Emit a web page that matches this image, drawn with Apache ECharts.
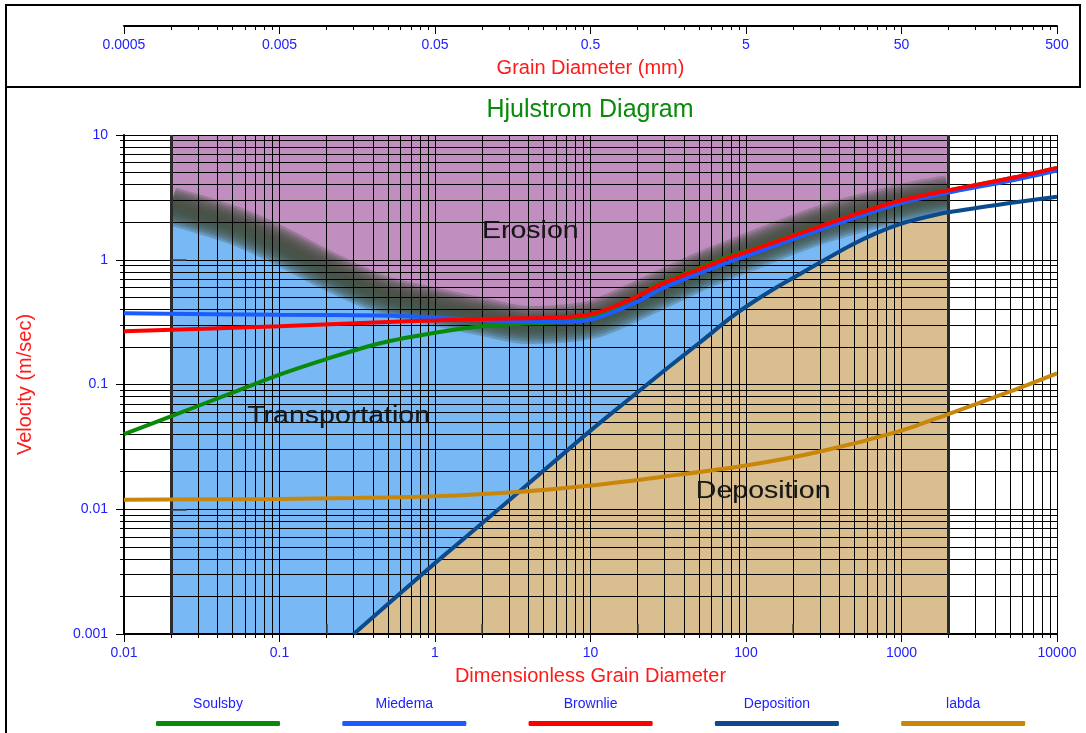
<!DOCTYPE html>
<html>
<head>
<meta charset="utf-8">
<script src="https://cdn.jsdelivr.net/npm/echarts@6/dist/echarts.min.js"></script>
<style>
  html, body { margin: 0; padding: 0; background: #fff; }
  #chart { width: 1086px; height: 733px; }
</style>
</head>
<body>
<div id="chart"></div>
<script>
// Hjulstrom diagram: velocity (m/sec) against dimensionless grain diameter, log-log
const soulsbyD = [0.01, 0.02, 0.05, 0.1, 0.2, 0.45, 1, 2, 3.5, 6, 10, 14, 20, 29, 49, 76, 100, 223, 500, 1000, 2000, 5000, 10000];
const soulsbyV = [0.040, 0.0556, 0.086, 0.12, 0.16, 0.215, 0.26, 0.293, 0.306, 0.316, 0.345, 0.405, 0.51, 0.655, 0.85, 1.06, 1.17, 1.65, 2.3, 3.0, 3.6, 4.5, 5.45];

const miedemaD = [0.01, 0.1, 0.45, 1, 2, 5, 7, 10, 14, 20, 29, 49, 76, 100, 223, 500, 1000, 2000, 5000, 10000];
const miedemaV = [0.372, 0.362, 0.357, 0.345, 0.327, 0.318, 0.316, 0.33, 0.38, 0.46, 0.59, 0.77, 0.95, 1.07, 1.53, 2.17, 2.85, 3.45, 4.3, 5.2];

const brownlieD = [0.01, 0.1, 0.45, 1, 2, 5, 7, 10, 14, 20, 29, 49, 76, 100, 223, 500, 1000, 2000, 5000, 10000];
const brownlieV = [0.267, 0.293, 0.316, 0.326, 0.335, 0.342, 0.347, 0.365, 0.418, 0.51, 0.644, 0.83, 1.03, 1.15, 1.63, 2.3, 3.0, 3.6, 4.5, 5.45];

const depositionD = [0.3, 1, 3, 10, 19, 30, 50, 79, 100, 150, 223, 470, 700, 1000, 1400, 2000, 5000, 10000];
const depositionV = [0.001, 0.0037, 0.0118, 0.0427, 0.082, 0.13, 0.215, 0.34, 0.42, 0.58, 0.77, 1.3, 1.65, 1.95, 2.18, 2.4, 2.85, 3.2];

const labdaD = [0.01, 0.1, 0.3, 1, 3, 10, 30, 100, 300, 1000, 2000, 5000, 10000];
const labdaV = [0.0119, 0.0121, 0.0123, 0.0127, 0.0136, 0.0155, 0.0183, 0.0224, 0.029, 0.0427, 0.058, 0.088, 0.123];

// centre of the blurred erosion / transportation boundary
const boundaryD = [0.02, 0.05, 0.1, 0.2, 0.45, 1, 2, 4, 10, 20, 50, 100, 300, 1000, 2000];
const boundaryV = [2.7, 1.9, 1.3, 0.83, 0.53, 0.42, 0.35, 0.30, 0.33, 0.47, 0.8, 1.13, 1.9, 2.85, 3.35];

const shadedD = [0.02, 2000];      // coloured part of the diagram
const xRange = [0.01, 10000];
const yRange = [0.001, 10];
const mmPerD = 0.05;               // grain diameter in mm = 0.05 * dimensionless diameter
const innerTickD = [0.2, 2, 20, 200];
const innerTickV = [1, 0.01];

const seriesNames = ['Soulsby', 'Miedema', 'Brownlie', 'Deposition', 'labda'];
const seriesColors = ['#0a8a0a', '#1a5cff', '#ff0000', '#0b4a8c', '#c8860a'];
const regionNames = ['Erosion', 'Transportation', 'Deposition'];
const regionAt = [[4.1, 1.69], [0.24, 0.0553], [129, 0.0138]];

const font = '"Liberation Sans", Arial, sans-serif';
const labelBlue = '#2020ff';

const pairs = (xs, ys) => xs.map((x, i) => [x, ys[i]]);
const fmt = v => String(parseFloat(v.toPrecision(4)));

const chart = echarts.init(document.getElementById('chart'));

const area = (name, data, color, z) => ({
  name, type: 'line', data, z, silent: true, symbol: 'none', smooth: 0.3,
  lineStyle: { width: 0 },
  areaStyle: { color, opacity: 1, origin: 'start' }
});

// the soft dark band is built from a few translucent strokes of falling width
const bandWidths = [38, 33, 28, 23, 18, 13, 8];
const bandSeries = bandWidths.map((w, i) => ({
  name: 'band' + i, type: 'line', data: pairs(boundaryD, boundaryV), z: 1.4,
  silent: true, symbol: 'none', smooth: 0.3,
  lineStyle: { width: w, color: 'rgba(66,80,64,0.27)', cap: 'butt', shadowBlur: 4, shadowColor: 'rgba(66,80,64,0.2)' }
}));

const curveData = [
  pairs(soulsbyD, soulsbyV),
  pairs(miedemaD, miedemaV),
  pairs(brownlieD, brownlieV),
  pairs(depositionD, depositionV),
  pairs(labdaD, labdaV)
];

const innerTicks = [];
innerTickD.forEach(d => innerTicks.push([{ coord: [d, yRange[0]] }, { coord: [d, yRange[0] * 1.21] }]));
innerTickV.forEach(v => innerTicks.push([{ coord: [shadedD[0], v] }, { coord: [shadedD[0] * 1.26, v] }]));

const logAxis = (extra) => Object.assign({
  type: 'log',
  logBase: 10,
  z: 3,
  nameLocation: 'middle',
  nameTextStyle: { color: '#ff1a1a', fontSize: 20, fontFamily: font },
  axisLine: { show: true, onZero: false, lineStyle: { color: '#000', width: 2 } },
  axisTick: { show: true, length: 8, lineStyle: { color: '#000' } },
  minorTick: { show: true, splitNumber: 9, length: 4, lineStyle: { color: '#000' } },
  splitLine: { show: true, lineStyle: { color: '#000', width: 1 } },
  minorSplitLine: { show: true, lineStyle: { color: '#000', width: 1 } },
  axisLabel: { color: labelBlue, fontSize: 14, fontFamily: font, formatter: v => fmt(v) }
}, extra);

const option = {
  animation: false,
  backgroundColor: '#fff',
  title: {
    text: 'Hjulstrom Diagram',
    left: 590, top: 98, padding: 0, textAlign: 'center',
    textStyle: { color: '#0a8a0a', fontSize: 25, fontWeight: 'normal', fontFamily: font }
  },
  grid: [
    { left: 124, right: 29, top: 135, bottom: 99 },
    { left: 124, right: 29, top: 20, height: 6 }
  ],
  xAxis: [
    logAxis({
      gridIndex: 0, min: xRange[0], max: xRange[1], splitNumber: 6,
      name: 'Dimensionless Grain Diameter', nameGap: 32,
      axisLabel: { color: labelBlue, fontSize: 14, fontFamily: font, margin: 12, formatter: v => fmt(v) }
    }),
    logAxis({
      gridIndex: 1, min: xRange[0], max: xRange[1], splitNumber: 6, position: 'bottom',
      name: 'Grain Diameter (mm)', nameGap: 32,
      splitLine: { show: false }, minorSplitLine: { show: false },
      axisLabel: { color: labelBlue, fontSize: 14, fontFamily: font, margin: 12, formatter: v => fmt(v * mmPerD) }
    })
  ],
  yAxis: [
    logAxis({
      gridIndex: 0, min: yRange[0], max: yRange[1], splitNumber: 4,
      name: 'Velocity (m/sec)', nameGap: 89,
      axisLabel: { color: labelBlue, fontSize: 14, fontFamily: font, margin: 16, formatter: v => fmt(v) }
    }),
    { gridIndex: 1, type: 'value', show: false, min: 0, max: 1 }
  ],
  legend: seriesNames.map((name, i) => ({
    data: [name],
    left: 156 + i * 186.3, top: 721, padding: 0,
    itemWidth: 124, itemHeight: 5, icon: 'roundRect',
    selectedMode: false,
    formatter: () => ''
  })),
  series: [
    Object.assign(area('erosion', pairs(shadedD, [yRange[1], yRange[1]]), '#c08fbf', 1), {
      markLine: {
        silent: true, symbol: 'none', z: 4, animation: false,
        label: { show: false },
        lineStyle: { color: '#2b2b2b', width: 3, type: 'solid' },
        data: [{ xAxis: shadedD[0] }, { xAxis: shadedD[1] }].concat(
          innerTicks.map(seg => [
            Object.assign({ lineStyle: { color: '#444', width: 1.5 } }, seg[0]),
            seg[1]
          ])
        )
      }
    }),
    area('transport', pairs(boundaryD, boundaryV), '#78b9f5', 1.2),
    ...bandSeries,
    area('deposit', pairs(depositionD, depositionV).filter(p => p[0] <= shadedD[1]), '#d9be8f', 1.6),
    area('blankLeft', pairs([xRange[0], shadedD[0]], [yRange[1], yRange[1]]), '#fff', 1.8),
    area('blankRight', pairs([shadedD[1], xRange[1]], [yRange[1], yRange[1]]), '#fff', 1.8),
    ...seriesNames.map((name, i) => ({
      name, type: 'line', data: curveData[i], z: 5,
      symbol: 'none', smooth: 0.3,
      color: seriesColors[i],
      itemStyle: { color: seriesColors[i] },
      lineStyle: { width: 4, color: seriesColors[i] }
    }))
  ]
};

chart.setOption(option);

// frame, legend captions and region names
const graphics = [
  { type: 'rect', shape: { x: 6, y: 5, width: 1074, height: 82 }, style: { fill: 'none', stroke: '#000', lineWidth: 2 } },
  { type: 'line', shape: { x1: 6, y1: 87, x2: 6, y2: 733 }, style: { stroke: '#000', lineWidth: 2 } }
];
seriesNames.forEach((name, i) => {
  graphics.push({
    type: 'text', x: 156 + 62 + i * 186.3, y: 704,
    style: { text: name, font: '14px ' + font, fill: labelBlue, align: 'center', verticalAlign: 'middle', textAlign: 'center', textVerticalAlign: 'middle' }
  });
});
regionNames.forEach((name, i) => {
  const p = chart.convertToPixel({ gridIndex: 0 }, regionAt[i]);
  graphics.push({
    type: 'text', x: p[0], y: p[1], scaleX: 1.24, z: 4,
    style: {
      text: name, font: '23px ' + font, fill: '#161616',
      align: 'center', verticalAlign: 'middle', textAlign: 'center', textVerticalAlign: 'middle',
      textShadowBlur: 1, textShadowColor: 'rgba(0,0,0,0.25)'
    }
  });
});
chart.setOption({ graphic: graphics });
</script>
</body>
</html>
